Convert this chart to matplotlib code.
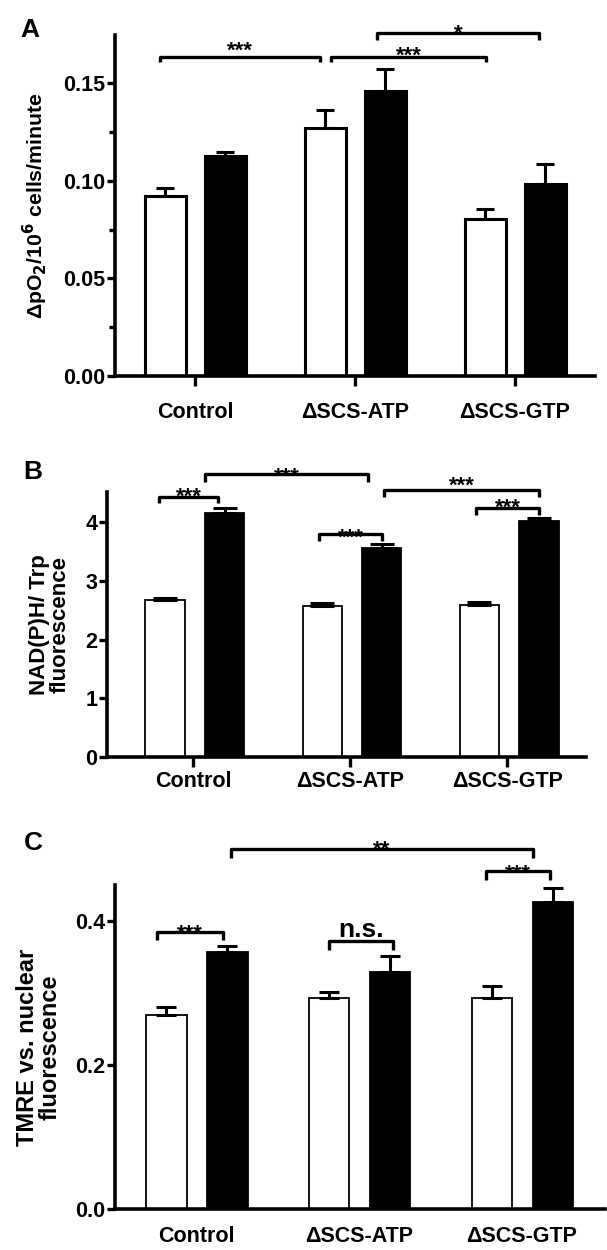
import matplotlib
matplotlib.use("Agg")
import matplotlib.pyplot as plt
import numpy as np

plt.rcParams['font.family'] = ['Liberation Sans', 'DejaVu Sans']
plt.rcParams['font.weight'] = 'bold'

categories = ["Control", "\u0394SCS-ATP", "\u0394SCS-GTP"]

# Panel A: oxygen consumption
a_white = [0.0923, 0.1271, 0.0802]
a_white_err = [0.0038, 0.0089, 0.0051]
a_black = [0.1128, 0.1459, 0.0981]
a_black_err = [0.0021, 0.0111, 0.0106]

# Panel B: NAD(P)H / Trp
b_white = [2.67, 2.574, 2.585]
b_white_err = [0.05, 0.046, 0.051]
b_black = [4.165, 3.56, 4.02]
b_black_err = [0.075, 0.065, 0.05]

# Panel C: TMRE
c_white = [0.2694, 0.293, 0.293]
c_white_err = [0.0116, 0.009, 0.017]
c_black = [0.3565, 0.3287, 0.426]
c_black_err = [0.0085, 0.0223, 0.020]

# significance brackets: (x1, x2, y, drop, text, text_y)
a_sig = [(-0.22, 0.78, 0.1635, 0.0029, "***", 0.1700),
         (0.85, 1.82, 0.1635, 0.0029, "***", 0.1677),
         (1.14, 2.15, 0.1754, 0.0034, "*", 0.1790)]
b_sig = [(-0.22, 0.158, 4.44, 0.11, "***", 4.55),
         (0.076, 1.11, 4.82, 0.13, "***", 4.90),
         (0.80, 1.20, 3.80, 0.12, "***", 3.86),
         (1.216, 2.20, 4.56, 0.13, "***", 4.74),
         (1.80, 2.20, 4.24, 0.12, "***", 4.37)]
c_sig = [(-0.239, 0.164, 0.385, 0.012, "***", 0.392),
         (0.816, 1.205, 0.372, 0.012, "n.s.", 0.378),
         (0.212, 2.065, 0.4995, 0.0125, "**", 0.508),
         (1.78, 2.175, 0.4695, 0.0125, "***", 0.4755)]

W, H = 607, 1250
fig = plt.figure(figsize=(W / 100, H / 100), dpi=100)

def px_axes(left, right, top, bottom):
    return fig.add_axes([left / W, 1 - bottom / H, (right - left) / W, (bottom - top) / H])

def panel(ax, white, werr, black, berr, off_w, off_b, width, ylim, xlim,
          edge_lw, capsize, xticks_marks=True, xpad=12):
    x = np.arange(len(categories))
    ax.bar(x + off_w, white, width, color="white", edgecolor="black",
           linewidth=edge_lw, zorder=2)
    ax.bar(x + off_b, black, width, color="black", edgecolor="black",
           linewidth=edge_lw, zorder=2)
    ax.errorbar(x + off_w, white, yerr=[np.zeros(3), werr], fmt="none",
                ecolor="black", elinewidth=2.2, capsize=capsize, capthick=2.2, zorder=3)
    ax.errorbar(x + off_b, black, yerr=[np.zeros(3), berr], fmt="none",
                ecolor="black", elinewidth=2.2, capsize=capsize, capthick=2.2, zorder=3)
    ax.set_xlim(*xlim)
    ax.set_ylim(*ylim)
    ax.set_xticks(x)
    ax.set_xticklabels(categories, fontsize=15.5, fontweight="bold")
    for s in ["top", "right"]:
        ax.spines[s].set_visible(False)
    for s in ["left", "bottom"]:
        ax.spines[s].set_linewidth(2.6)
    ax.tick_params(axis="y", width=2.4, length=6, labelsize=15.5, pad=1)
    if xticks_marks:
        ax.tick_params(axis="x", width=2.4, length=7, pad=xpad)
    else:
        ax.tick_params(axis="x", length=0, pad=xpad)

def brackets(ax, sigs, fs=16, ns_fs=19):
    for x1, x2, y, d, t, ty in sigs:
        ax.plot([x1, x1, x2, x2], [y - d, y, y, y - d], color="black",
                lw=2.4, clip_on=False, zorder=4, solid_capstyle="butt")
        if t == "n.s.":
            ax.text((x1 + x2) / 2, ty, t, ha="center", va="baseline", fontsize=ns_fs,
                    fontweight="bold", clip_on=False)
        else:
            ax.annotate(t, xy=((x1 + x2) / 2, ty), xytext=(0, -0.58 * fs),
                        textcoords="offset points", ha="center", va="baseline",
                        fontsize=fs, fontweight="bold", annotation_clip=False,
                        zorder=3)

def bold_ticks(ax):
    for lbl in ax.get_yticklabels() + ax.get_xticklabels():
        lbl.set_fontweight("bold")

# Panel A
axA = px_axes(115, 595, 35, 376)
panel(axA, a_white, a_white_err, a_black, a_black_err, -0.185, 0.19, 0.26,
      (0, 0.1746), (-0.5, 2.5), 2.2, 6.5)
axA.set_yticks([0, 0.05, 0.10, 0.15])
axA.set_yticklabels(["0.00", "0.05", "0.10", "0.15"])
axA.set_yticks([0.025, 0.075, 0.125], minor=True)
axA.tick_params(axis="y", which="minor", width=2.4, length=4)
bold_ticks(axA)
axA.set_ylabel("\u0394pO$_\\mathbf{2}$/10$^\\mathbf{6}$ cells/minute", fontsize=15.3,
               fontweight="bold")
axA.yaxis.set_label_coords(-0.135, 0.5)
brackets(axA, a_sig)
fig.text(30 / W, 1 - 30 / H, "A", fontsize=19, fontweight="bold", ha="center", va="center")

# Panel B
axB = px_axes(107, 586, 492, 757)
panel(axB, b_white, b_white_err, b_black, b_black_err, -0.18, 0.20, 0.25,
      (0, 4.52), (-0.55, 2.5), 1.3, 8.5, xpad=3)
axB.set_yticks([0, 1, 2, 3, 4])
bold_ticks(axB)
axB.set_ylabel("NAD(P)H/ Trp\nfluorescence", fontsize=16, fontweight="bold",
               linespacing=1.0)
axB.yaxis.set_label_coords(-0.075, 0.5)
brackets(axB, b_sig)
fig.text(33 / W, 1 - 472 / H, "B", fontsize=19, fontweight="bold", ha="center", va="center")

# Panel C
axC = px_axes(115, 605, 885, 1209)
panel(axC, c_white, c_white_err, c_black, c_black_err, -0.185, 0.19, 0.25,
      (0, 0.45), (-0.5, 2.51), 1.3, 7, xticks_marks=False, xpad=12)
axC.set_yticks([0.0, 0.2, 0.4])
axC.set_yticklabels(["0.0", "0.2", "0.4"])
bold_ticks(axC)
axC.set_ylabel("TMRE vs. nuclear\nfluorescence", fontsize=17, fontweight="bold",
               linespacing=1.0)
axC.yaxis.set_label_coords(-0.108, 0.5)
brackets(axC, c_sig)
fig.text(33 / W, 1 - 843 / H, "C", fontsize=19, fontweight="bold", ha="center", va="center")

fig.savefig("out.png", dpi=100)
